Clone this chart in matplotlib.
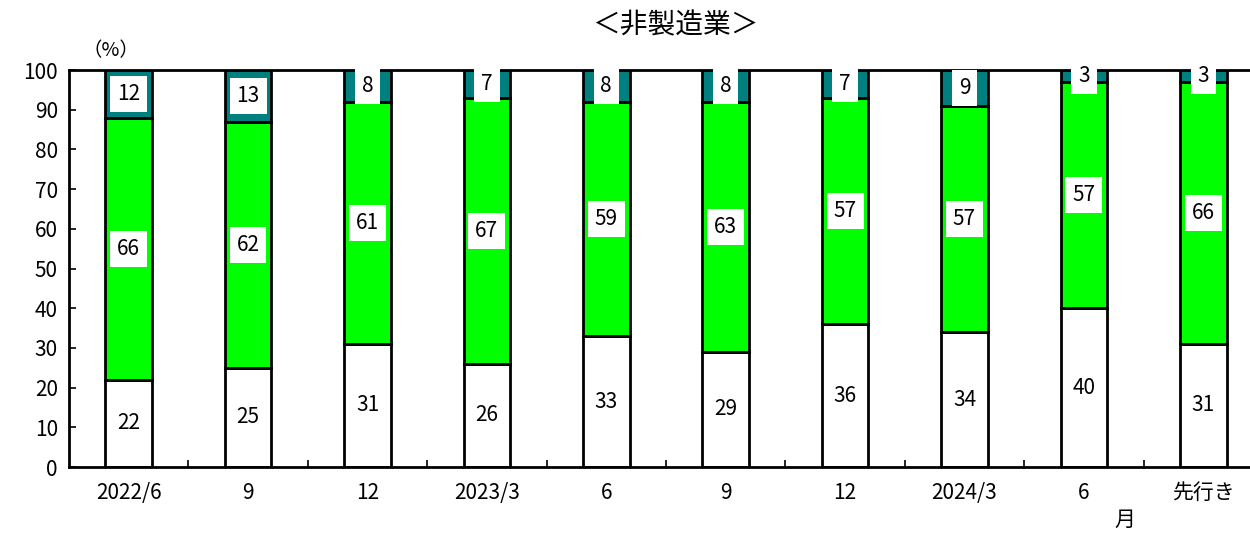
import numpy as np
import matplotlib
matplotlib.use("Agg")
import matplotlib.pyplot as plt
import matplotlib.transforms as mtransforms

plt.rcParams['font.family'] = ['Noto Sans CJK JP', 'DejaVu Sans']

# data
periods = ["2022/6", "9", "12", "2023/3", "6", "9", "12", "2024/3", "6", "先行き"]
bottom_vals = [22, 25, 31, 26, 33, 29, 36, 34, 40, 31]
middle_vals = [66, 62, 61, 67, 59, 63, 57, 57, 57, 66]
top_vals = [12, 13, 8, 7, 8, 8, 7, 9, 3, 3]

white = "#FFFFFF"
green = "#00FF00"
teal = "#007F7F"

fig = plt.figure(figsize=(12.5, 5.35), dpi=100)
ax = fig.add_axes([0.0552, 0.1271, 0.9552, 0.742])

x = np.arange(len(periods))
w = 0.39
b1 = np.array(bottom_vals)
b2 = b1 + np.array(middle_vals)

ax.bar(x, bottom_vals, w, color=white, edgecolor="black", linewidth=2, zorder=2)
ax.bar(x, middle_vals, w, bottom=b1, color=green, edgecolor="black", linewidth=2, zorder=2)
ax.bar(x, top_vals, w, bottom=b2, color=teal, edgecolor="black", linewidth=2, zorder=2)

box = dict(boxstyle="square,pad=0.33", facecolor="white", edgecolor="none")
for i in range(len(x)):
    segs = [(0, bottom_vals[i]), (b1[i], middle_vals[i]), (b2[i], top_vals[i])]
    for j, (start, v) in enumerate(segs):
        ax.text(x[i], start + v / 2, str(v), ha="center", va="center",
                fontsize=15, bbox=box if j > 0 else None, zorder=5, clip_on=False)

ax.set_xlim(-0.5, len(periods) - 0.5)
ax.set_ylim(0, 100)
ax.set_yticks(np.arange(0, 101, 10))
ax.set_xticks(x)
ax.set_xticklabels(periods)
ax.set_xticks(np.arange(0.5, len(periods) - 0.5, 1), minor=True)
ax.tick_params(axis="x", which="major", length=0, pad=11, labelsize=15)
ax.tick_params(axis="x", which="minor", direction="in", length=5, width=1.2)
ax.tick_params(axis="y", direction="in", length=5, width=1.2, labelsize=15, pad=8)

for s in ["left", "bottom", "top", "right"]:
    ax.spines[s].set_linewidth(2)
ax.spines["top"].set_zorder(3)

trans = mtransforms.blended_transform_factory(ax.transData, ax.transAxes)
ax.text(-0.15, 1.05, "（%）", transform=trans, ha="center", va="center", fontsize=14)
ax.text(8.34, -0.133, "月", transform=trans, ha="center", va="center", fontsize=15)

fig.text(0.54, 0.953, "＜非製造業＞", ha="center", va="center", fontsize=20)

fig.savefig("out.png", dpi=100)
